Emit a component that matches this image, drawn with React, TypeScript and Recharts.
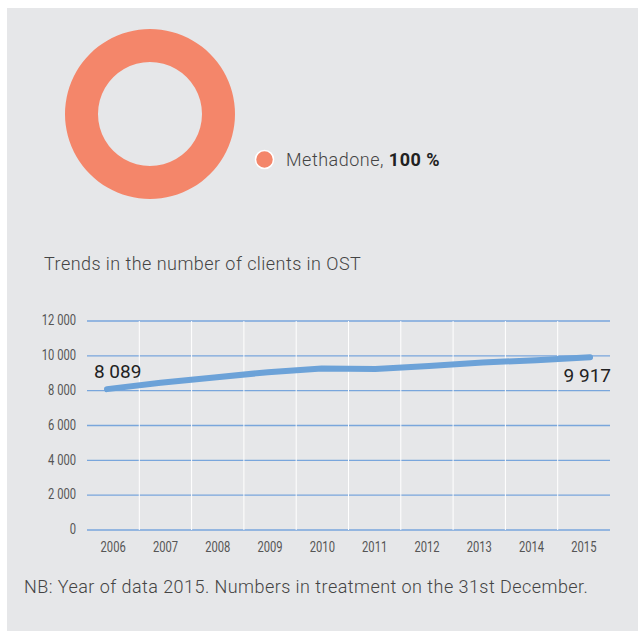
import { CartesianGrid, LabelList, Legend, Line, LineChart, Pie, PieChart, ReferenceLine, XAxis, YAxis, Cell } from 'recharts'

const years = [2006, 2007, 2008, 2009, 2010, 2011, 2012, 2013, 2014, 2015]
const clients = [8089, 8450, 8760, 9060, 9270, 9240, 9410, 9620, 9750, 9917]
const yTicks = [0, 2000, 4000, 6000, 8000, 10000, 12000]

const substances = ['Methadone']
const shares = [100]

const PANEL = '#e6e7e9'
const TEXT = '#444'
const FONT = 'Roboto, "Open Sans", sans-serif'

const lineData = years.map((year, i) => ({ year, clients: clients[i] }))
const pieData = substances.map((name, i) => ({ name, value: shares[i] }))
const bandEdges = years.slice(0, -1).map((y) => y + 0.5)

const fmt = (v: number) => v.toLocaleString('en-US').replace(/,/g, ' ')

// the source uses a condensed face; squeeze Roboto horizontally
function NarrowTick(props: any) {
  const { x, y, payload, textAnchor, dy, formatter } = props
  const label = formatter ? formatter(payload.value) : String(payload.value)
  return (
    <g transform={`translate(${x},${y})`}>
      <text transform="scale(0.8,1)" textAnchor={textAnchor} dy={dy} fontSize={14} fill="#555" fontFamily={FONT}>
        {label}
      </text>
    </g>
  )
}

function EndLabel(props: any) {
  const { x, y, index, value } = props
  const style = { fontSize: 19, fontWeight: 400, fill: '#222', fontFamily: FONT }
  if (index === 0) {
    return (
      <text x={x - 13} y={y - 11} {...style}>
        {fmt(value)}
      </text>
    )
  }
  if (index === clients.length - 1) {
    return (
      <text x={x + 21} y={y + 25} textAnchor="end" {...style}>
        {fmt(value)}
      </text>
    )
  }
  return null
}

function PieLegend() {
  return (
    <div
      style={{
        display: 'flex', alignItems: 'center', fontFamily: FONT, fontSize: 18, color: TEXT,
        fontWeight: 300, letterSpacing: 0.5, whiteSpace: 'nowrap',
      }}
    >
      {pieData.map((d) => (
        <span key={d.name} style={{ display: 'flex', alignItems: 'center' }}>
          <svg width={21} height={21} style={{ marginRight: 11 }}>
            <circle cx={10.5} cy={10.5} r={9} fill="#f4866a" stroke="#fff" strokeWidth={1.5} />
          </svg>
          <span>
            {d.name}, <b style={{ fontWeight: 700, color: '#222' }}>{d.value} %</b>
          </span>
        </span>
      ))}
    </div>
  )
}

const textBlock = {
  position: 'absolute' as const,
  fontFamily: FONT,
  fontSize: 18,
  lineHeight: '18px',
  fontWeight: 300,
  color: TEXT,
  whiteSpace: 'nowrap' as const,
  letterSpacing: 0.45,
}

export default function App() {
  return (
    <div style={{ position: 'absolute', left: 0, top: 0, width: 638, height: 631 }}>
      <div style={{ position: 'absolute', left: 7, top: 8, width: 631, height: 623, background: PANEL }} />

      <div style={{ position: 'absolute', left: 45, top: 9 }}>
        <PieChart width={420} height={210}>
          <Pie
            data={pieData}
            dataKey="value"
            cx={100}
            cy={100}
            innerRadius={52}
            outerRadius={85}
            startAngle={90}
            endAngle={-270}
            stroke="none"
            isAnimationActive={false}
          >
            {pieData.map((d) => (
              <Cell key={d.name} fill="#f4866a" />
            ))}
          </Pie>
          <Legend
            content={<PieLegend />}
            wrapperStyle={{ position: 'absolute', left: 209, top: 140, width: 'auto' }}
          />
        </PieChart>
      </div>

      <div style={{ ...textBlock, left: 44, top: 255 }}>Trends in the number of clients in OST</div>

      <div style={{ position: 'absolute', left: 0, top: 300 }}>
        <LineChart width={638} height={262} data={lineData} margin={{ top: 21, right: 28, bottom: 2, left: 0 }}>
          <CartesianGrid vertical={false} stroke="#79a6dc" strokeWidth={1.3} />
          {bandEdges.map((x) => (
            <ReferenceLine key={x} x={x} xAxisId="years" stroke="#fff" strokeWidth={1} />
          ))}
          <XAxis
            xAxisId="years"
            dataKey="year"
            type="number"
            domain={[2005.5, 2015.5]}
            ticks={years}
            axisLine={false}
            tickLine={false}
            tickSize={0}
            tickMargin={12}
            height={30}
            tick={<NarrowTick dy="0.71em" />}
          />
          <XAxis
            xAxisId="line"
            dataKey="year"
            type="number"
            domain={[2006 - 0.372, 2015 + 0.372]}
            hide
            height={0}
          />
          <YAxis
            domain={[0, 12000]}
            ticks={yTicks}
            axisLine={false}
            tickLine={false}
            tickSize={0}
            tickMargin={11}
            width={87}
            tick={<NarrowTick dy="0.3em" formatter={fmt} />}
          />
          <Line
            xAxisId="line"
            type="linear"
            dataKey="clients"
            stroke="#6ca2d8"
            strokeWidth={6}
            strokeLinecap="round"
            dot={false}
            isAnimationActive={false}
          >
            <LabelList dataKey="clients" content={<EndLabel />} />
          </Line>
        </LineChart>
      </div>

      <div style={{ ...textBlock, left: 24, top: 578 }}>
        NB: Year of data 2015. Numbers in treatment on the 31st December.
      </div>
    </div>
  )
}
